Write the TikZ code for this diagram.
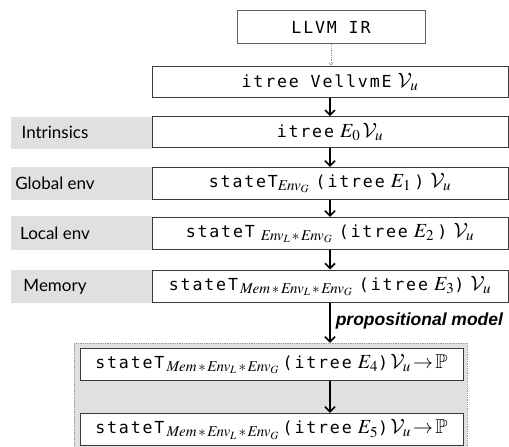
\documentclass[tikz,border=0pt]{standalone}
\usepackage{mathptmx}
\usepackage{amssymb}
\usepackage{fontspec}
\setmonofont{DejaVu Sans Mono}[Scale=0.83,LetterSpace=11]
\newfontfamily\labelfont{Lato}
\newfontfamily\notefont{Liberation Sans}
\usetikzlibrary{arrows.meta}
\DeclareMathSizes{20}{20}{15}{11}
\DeclareMathAlphabet{\mathcal}{OMS}{cmsy}{m}{n}

\definecolor{bandgray}{HTML}{E0E0E0}
\definecolor{boxline}{HTML}{3A3A3A}
\definecolor{dotline}{HTML}{9A9A9A}

\tikzset{
  boxtext/.style={font=\fontsize{20}{24}\selectfont},
  mainbox/.style={draw=boxline, line width=1pt, fill=white, inner sep=0pt,
    boxtext, minimum width=356pt},
  lowbox/.style={draw=boxline, line width=1pt, fill=white, inner sep=0pt,
    boxtext, minimum width=383pt},
  band/.style={fill=bandgray, draw=none},
  layerlabel/.style={font=\labelfont\fontsize{17}{20}\selectfont, inner sep=0pt},
  bigarrow/.style={line width=1.6pt, -{Straight Barb[length=5pt,width=10pt,line width=1.6pt]}},
  thinarrow/.style={draw=dotline, line width=0.8pt, densely dotted,
    -{Straight Barb[length=2.5pt,width=4pt,line width=0.6pt]}},
}

\newcommand{\tw}[1]{{\ttfamily #1}}
% state index products, with a little air round each star
\newcommand{\stG}{\mathit{Env}_G}
\newcommand{\stLG}{\mathit{Env}_L\,{\ast}\,\mathit{Env}_G}
\newcommand{\stMLG}{\mathit{Mem}\,{\ast}\,\mathit{Env}_L\,{\ast}\,\mathit{Env}_G}

\begin{document}
\begin{tikzpicture}[x=1pt,y=-1pt]
\useasboundingbox (0,0) rectangle (509,447);

% grey label bands on the left
\fill[band] (11,116.7) rectangle (152,149);
\fill[band] (11,166.7) rectangle (152,200);
\fill[band] (11,216)   rectangle (152,250);
\fill[band] (11,270)   rectangle (152,303);

% shaded region of the propositional model
\node[fill=bandgray, draw=dotline, densely dotted, line width=0.8pt,
      minimum width=393pt, minimum height=106pt, inner sep=0pt]
  (region) at (270.5,396.2) {};

% source box
\node[draw=boxline!80, line width=1pt, inner sep=0pt, minimum width=188pt,
      minimum height=33pt, boxtext]
  (llvm) at (331,27.2) {\tw{LLVM IR}};

% layers
\node[mainbox, minimum height=31.7pt] (vellvm) at (330,81.85)
  {\tw{itree VellvmE} $\mathcal{V}_u$};
\node[mainbox, minimum height=31pt] (intr) at (330,132.2)
  {\tw{itree} $E_0\,\mathcal{V}_u$};
\node[mainbox, minimum height=31.7pt] (glob) at (330,183.15)
  {\tw{stateT}$_{\stG}$ \tw{(itree} $E_1$\,\tw{)} $\mathcal{V}_u$};
\node[mainbox, minimum height=31.7pt] (loc) at (330,233.15)
  {\tw{stateT} $_{\stLG}$ \tw{(itree} $E_2$\,\tw{)} $\mathcal{V}_u$};
\node[mainbox, minimum height=32.3pt] (mem) at (330,286.15)
  {\tw{stateT}$\,_{\stMLG}$ \tw{(itree} $E_3$\tw{)} $\mathcal{V}_u$};

\node[lowbox, minimum height=31.3pt] (prop4) at (271.5,364.35)
  {\tw{stateT}$\,_{\stMLG}$\,\tw{(itree} $E_4$\tw{)}$\,\mathcal{V}_u\,{\to}\,\mathbb{P}$};
\node[lowbox, minimum height=32.4pt] (prop5) at (271.5,429.5)
  {\tw{stateT}$\,_{\stMLG}$\,\tw{(itree} $E_5$\tw{)}$\,\mathcal{V}_u\,{\to}\,\mathbb{P}$};

% layer labels
\node[layerlabel] (lintr) at (55,132.6) {Intrinsics};
\node[layerlabel] (lglob) at (55,183.6) {Global env};
\node[layerlabel] (lloc)  at (55,233.6) {Local env};
\node[layerlabel] (lmem)  at (55,286.6) {Memory};

% connectors
\draw[thinarrow] (llvm.south) -- (llvm.south |- vellvm.north);
\draw[bigarrow] (vellvm.south) -- (intr.north);
\draw[bigarrow] (intr.south) -- (glob.north);
\draw[bigarrow] (glob.south) -- (loc.north);
\draw[bigarrow] (loc.south) -- (mem.north);
\draw[bigarrow] (mem.south) -- (mem.south |- region.north)
  node[pos=0.45, right=5pt, inner sep=0pt,
       font=\notefont\bfseries\itshape\fontsize{17.5}{20}\selectfont]
  (note) {propositional model};
\draw[bigarrow] (prop4.south -| mem.south) -- (prop5.north -| mem.south);
\end{tikzpicture}
\end{document}
